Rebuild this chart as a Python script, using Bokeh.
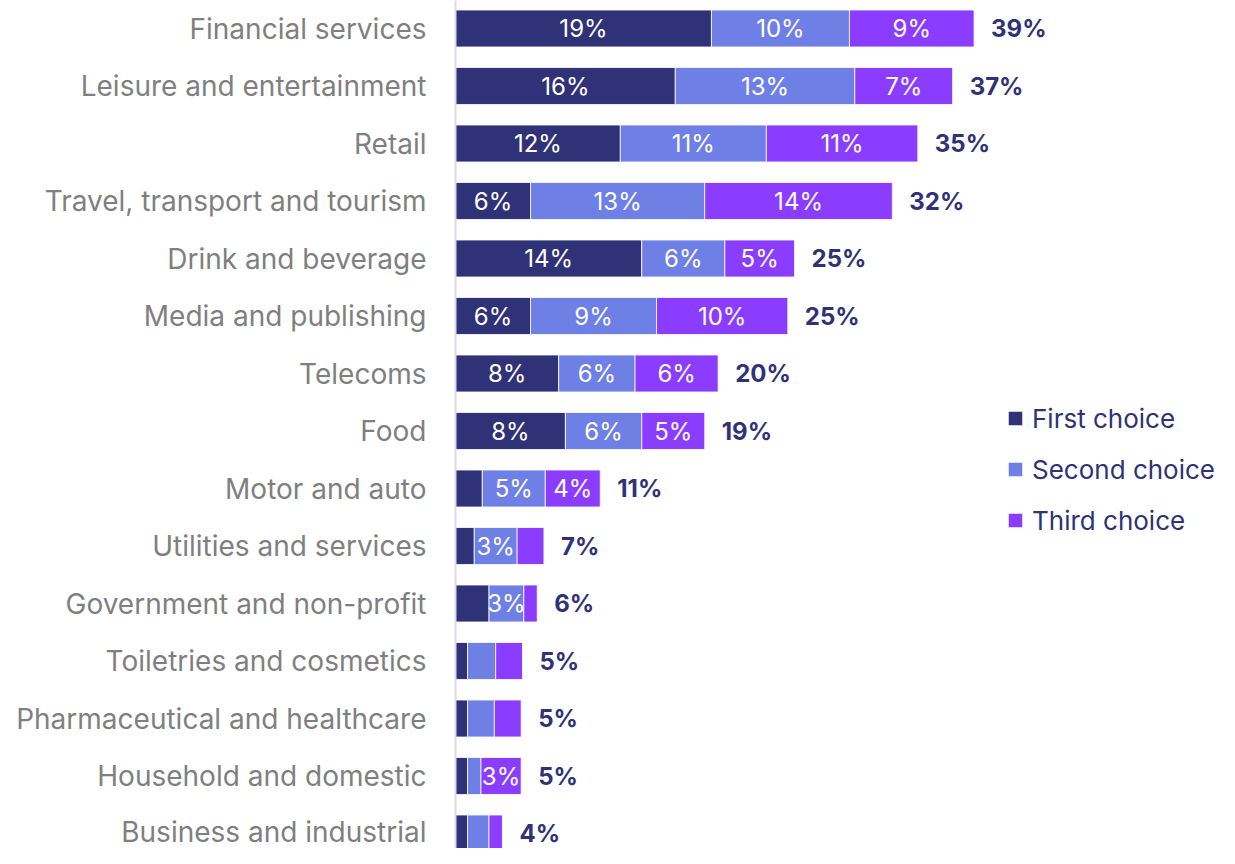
from bokeh.plotting import figure
from bokeh.models import ColumnDataSource, Range1d, FixedTicker, Legend, LegendItem
from bokeh.core.properties import value
from bokeh.embed import file_html
from bokeh.resources import INLINE

categories = ["Financial services", "Leisure and entertainment", "Retail",
              "Travel, transport and tourism", "Drink and beverage", "Media and publishing",
              "Telecoms", "Food", "Motor and auto", "Utilities and services",
              "Government and non-profit", "Toiletries and cosmetics",
              "Pharmaceutical and healthcare", "Household and domestic", "Business and industrial"]
first = [19.1, 16.4, 12.3, 5.6, 13.9, 5.6, 7.7, 8.2, 2.0, 1.4, 2.5, 0.9, 0.9, 0.9, 0.9]
second = [10.3, 13.4, 10.9, 13.0, 6.2, 9.4, 5.7, 5.7, 4.7, 3.2, 2.6, 2.1, 2.0, 1.0, 1.6]
third = [9.3, 7.3, 11.3, 14.0, 5.2, 9.8, 6.2, 4.7, 4.1, 2.0, 1.0, 2.0, 2.0, 3.0, 1.0]
first_labels = ["19%", "16%", "12%", "6%", "14%", "6%", "8%", "8%", "", "", "", "", "", "", ""]
second_labels = ["10%", "13%", "11%", "13%", "6%", "9%", "6%", "6%", "5%", "3%", "3%", "", "", "", ""]
third_labels = ["9%", "7%", "11%", "14%", "5%", "10%", "6%", "5%", "4%", "", "", "", "", "3%", ""]
total_labels = ["39%", "37%", "35%", "32%", "25%", "25%", "20%", "19%", "11%", "7%", "6%", "5%", "5%", "5%", "4%"]
series_names = ["First choice", "Second choice", "Third choice"]
colors = ["#2f3277", "#6e80e6", "#8a3dff"]

FONT = "Inter"
NAVY = "#2f3277"

y = list(range(len(categories)))
c1 = first
c2 = [a + b for a, b in zip(first, second)]
c3 = [a + b for a, b in zip(c2, third)]

src = ColumnDataSource(dict(
    y=y, first=first, second=second, third=third,
    m1=[v / 2 for v in first],
    m2=[a + b / 2 for a, b in zip(c1, second)],
    m3=[a + b / 2 for a, b in zip(c2, third)],
    tot=c3, l1=first_labels, l2=second_labels, l3=third_labels, lt=total_labels,
))

W, H = 1219, 848
LEFT = 455
px_per_unit = 13.4
row_px = 57.5
top_center = 28.0
p = figure(width=W, height=H, output_backend="svg", toolbar_location=None,
           x_range=Range1d(0, (W - LEFT) / px_per_unit),
           y_range=Range1d((H - top_center) / row_px, -top_center / row_px),
           min_border_left=LEFT, min_border_right=0, min_border_top=0, min_border_bottom=0)
p.outline_line_color = None
p.grid.visible = False
p.xaxis.visible = False

renderers = p.hbar_stack(["first", "second", "third"], y="y", height=0.643, color=colors,
                         line_color="#ffffff", line_width=0.8, source=src)

for m, l in (("m1", "l1"), ("m2", "l2"), ("m3", "l3")):
    p.text(x=m, y="y", text=l, source=src, text_align="center", text_baseline="middle",
           text_color="white", text_font=value(FONT), text_font_size="24px")

p.text(x="tot", y="y", text="lt", source=src, x_offset=17, text_align="left",
       text_baseline="middle", text_color=NAVY, text_font=value(FONT),
       text_font_size="24px", text_font_style="bold")

ax = p.yaxis[0]
ax.ticker = FixedTicker(ticks=y)
ax.major_label_overrides = {i: c for i, c in zip(y, categories)}
ax.major_tick_line_color = None
ax.minor_tick_line_color = None
ax.major_tick_out = 0
ax.major_label_standoff = 29
ax.axis_line_color = "#d9d9ef"
ax.axis_line_width = 2
ax.major_label_text_font = FONT
ax.major_label_text_font_size = "28px"
ax.major_label_text_color = "#7f7f7f"

legend = Legend(items=[LegendItem(label=n, renderers=[r]) for n, r in zip(series_names, renderers)],
                location=(551, 312), orientation="vertical",
                glyph_width=18, glyph_height=18, label_standoff=8, label_height=32,
                spacing=19, padding=0, margin=0,
                label_text_font=FONT, label_text_font_size="26px", label_text_color=NAVY,
                background_fill_alpha=0, border_line_color=None)
p.add_layout(legend)

open("out.html", "w").write(file_html(p, INLINE))
